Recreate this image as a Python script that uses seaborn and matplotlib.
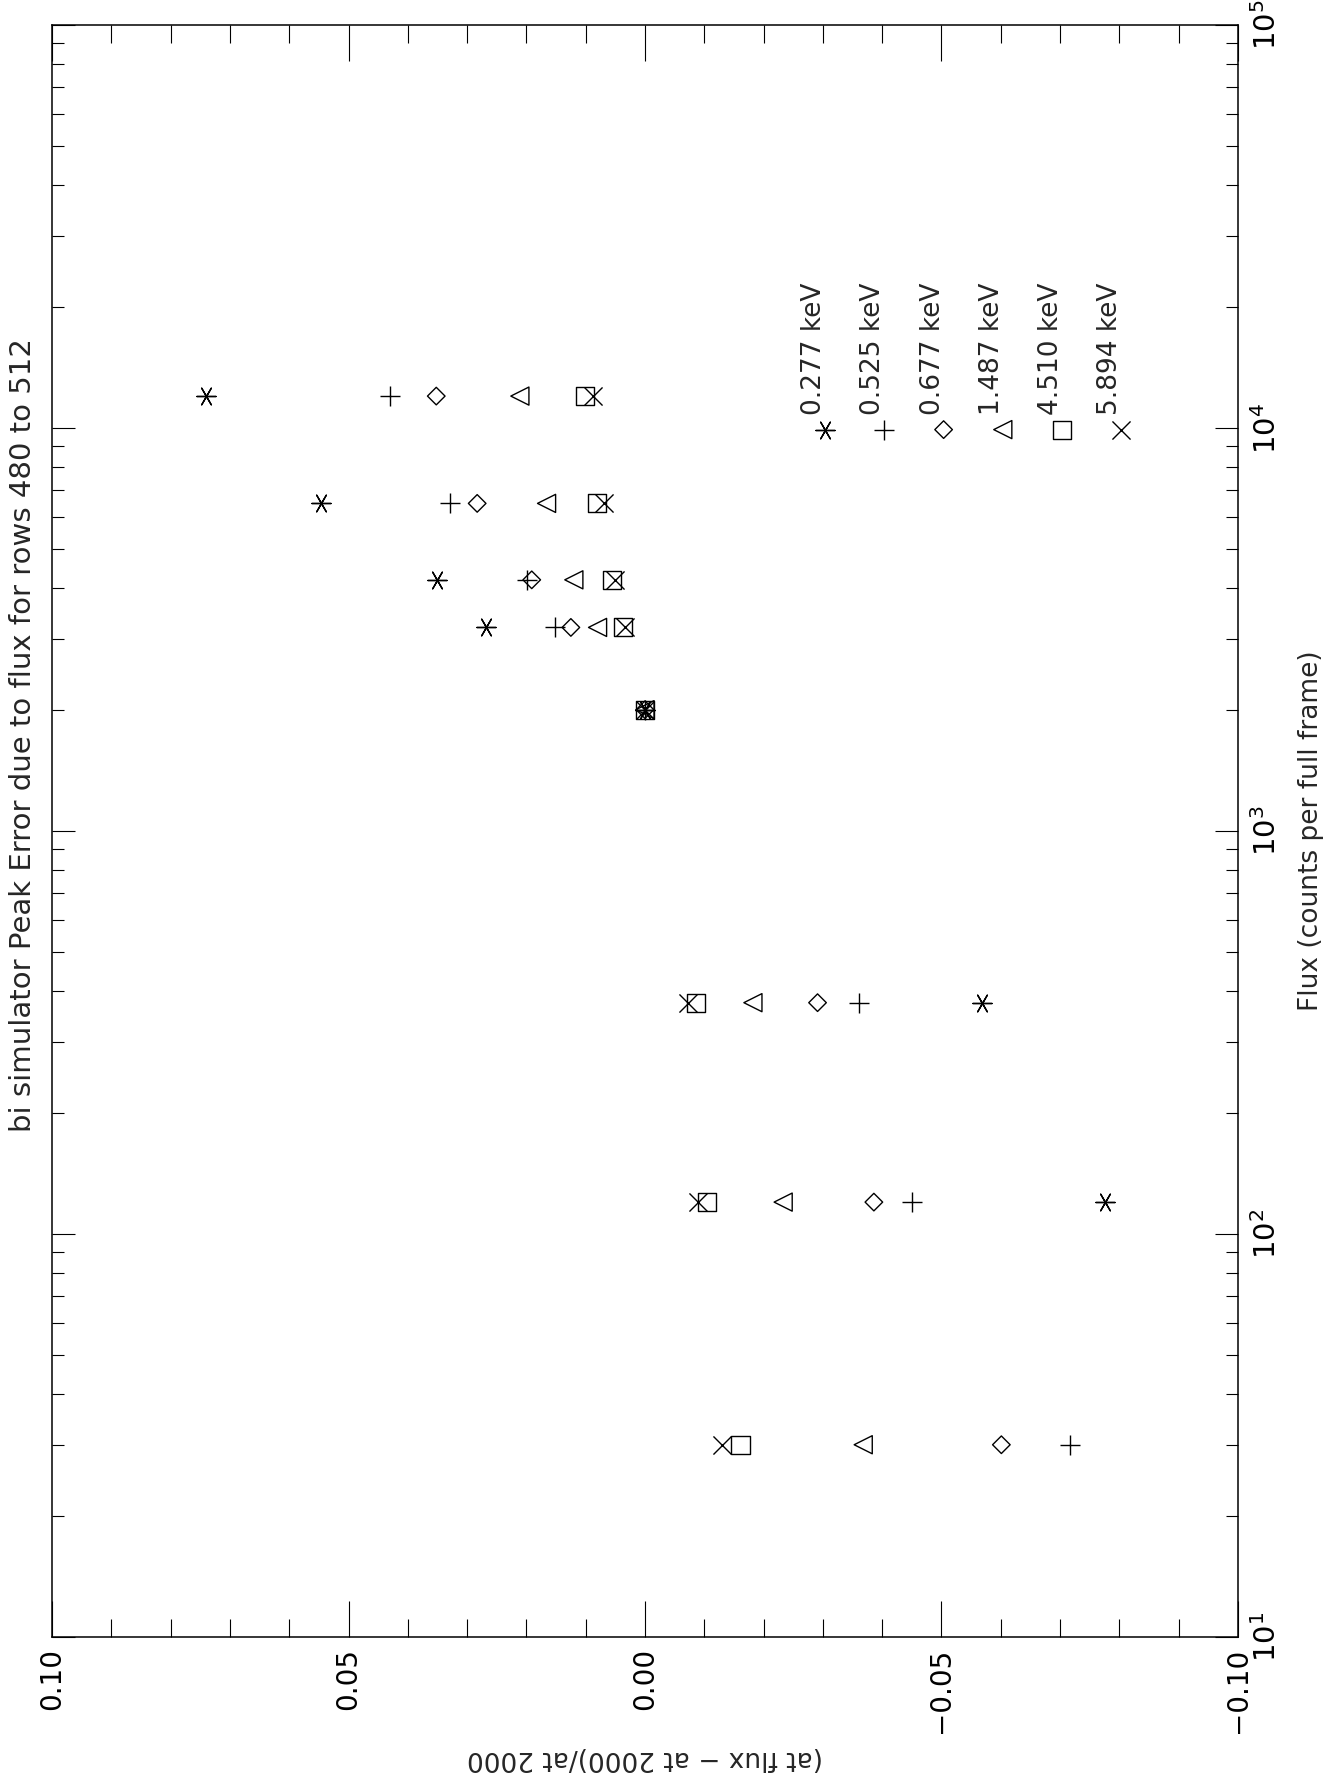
import numpy as np
import pandas as pd
import matplotlib
matplotlib.use("Agg")
import matplotlib.pyplot as plt
import matplotlib.ticker as mticker
import matplotlib.transforms as mtransforms
import seaborn as sns

# Flux values (counts per full frame) and relative peak error per energy
flux = [30, 120, 375, 2000, 3200, 4200, 6500, 12000]
err_0277 = [np.nan, -0.0776, -0.0568, 0.0, 0.0268, 0.0350, 0.0546, 0.0740]
err_0525 = [-0.0716, -0.0450, -0.0361, 0.0, 0.0151, 0.0199, 0.0329, 0.0430]
err_0677 = [-0.0601, -0.0386, -0.0291, 0.0, 0.0125, 0.0191, 0.0283, 0.0352]
err_1487 = [-0.0368, -0.0233, -0.0182, 0.0, 0.0080, 0.0120, 0.0166, 0.0211]
err_4510 = [-0.0161, -0.0105, -0.0086, 0.0, 0.0037, 0.0056, 0.0081, 0.0101]
err_5894 = [-0.0130, -0.0090, -0.0073, 0.0, 0.0034, 0.0050, 0.0069, 0.0087]

labels = ["0.277 keV", "0.525 keV", "0.677 keV", "1.487 keV", "4.510 keV", "5.894 keV"]
series = [err_0277, err_0525, err_0677, err_1487, err_4510, err_5894]

sns.set_style("white")
plt.rcParams["font.family"] = ["DejaVu Sans"]

# marker, size, outline-only?
styles = [
    ((6, 2, 90), 190, False),
    ("+", 190, False),
    ("D", 80, True),
    ("<", 170, True),
    ("s", 170, True),
    ("x", 170, False),
]

fig = plt.figure(figsize=(13.27, 17.85), dpi=100)
ax = fig.add_axes([0.0392, 0.0829, 0.8937, 0.9031])

for vals, (m, s, outline) in zip(series, styles):
    df = pd.DataFrame({"flux": flux, "err": vals}).dropna()
    if outline:
        sns.scatterplot(data=df, x="err", y="flux", marker=m, s=s, ax=ax,
                        facecolor="none", edgecolor="black", linewidth=1.0)
    else:
        sns.scatterplot(data=df, x="err", y="flux", marker=m, s=s, ax=ax,
                        color="black", linewidth=1.0)

ax.set_yscale("log")
ax.set_ylim(10, 1e5)
ax.set_xlim(0.10, -0.10)

ax.xaxis.set_major_locator(mticker.MultipleLocator(0.05))
ax.xaxis.set_minor_locator(mticker.MultipleLocator(0.01))


def fmt_val(v, pos):
    if abs(v) < 1e-9:
        v = 0.0
    return f"{v:.2f}".replace("-", "\u2212")


ax.xaxis.set_major_formatter(mticker.FuncFormatter(fmt_val))
ax.yaxis.set_major_locator(mticker.LogLocator(base=10, numticks=10))
ax.yaxis.set_minor_locator(mticker.LogLocator(base=10, subs=np.arange(2, 10), numticks=20))
ax.yaxis.set_minor_formatter(mticker.NullFormatter())

ax.tick_params(which="both", direction="in", top=True, bottom=True,
               left=True, right=True, width=0.8, colors="black")
ax.tick_params(axis="x", which="major", length=26, labelsize=20, labelrotation=90, pad=8)
ax.tick_params(axis="x", which="minor", length=13)
ax.tick_params(axis="y", which="major", length=16.5, labelsize=21, labelrotation=90,
               labelleft=False, labelright=True, pad=10)
ax.tick_params(axis="y", which="minor", length=8.5)
for lab in ax.get_yticklabels():
    lab.set_verticalalignment("center")

for sp in ax.spines.values():
    sp.set_linewidth(1.1)
    sp.set_color("black")

ax.set_xlabel("(at flux \u2212 at 2000)/at 2000", fontsize=19, rotation=180)
ax.xaxis.set_label_coords(0.5, -0.075)
ax.xaxis.label.set_verticalalignment("center")
ax.yaxis.set_label_position("right")
ax.set_ylabel("Flux (counts per full frame)", fontsize=19, rotation=90)
ax.yaxis.set_label_coords(1.062, 0.5)
ax.yaxis.label.set_verticalalignment("center")

fig.text(0.0175, 0.588, "bi simulator Peak Error due to flux for rows 480 to 512",
         rotation=90, ha="center", va="center", fontsize=21)

# legend drawn in the rotated layout
for i, ((m, s, outline), lab) in enumerate(zip(styles, labels)):
    lx = 0.652 + 0.0499 * i
    ly = 0.749
    if outline:
        ax.scatter([lx], [ly], marker=m, s=s, facecolor="none", edgecolor="black",
                   linewidth=1.0, transform=ax.transAxes, clip_on=False)
    else:
        ax.scatter([lx], [ly], marker=m, s=s, color="black",
                   linewidth=1.0, transform=ax.transAxes, clip_on=False)
    tr = ax.transAxes + mtransforms.ScaledTranslation(-4 / 100, 15 / 100, fig.dpi_scale_trans)
    ax.text(lx, ly, lab, rotation=90, rotation_mode="anchor", ha="left", va="baseline",
            fontsize=19, transform=tr)

fig.savefig("out.png", dpi=100)
